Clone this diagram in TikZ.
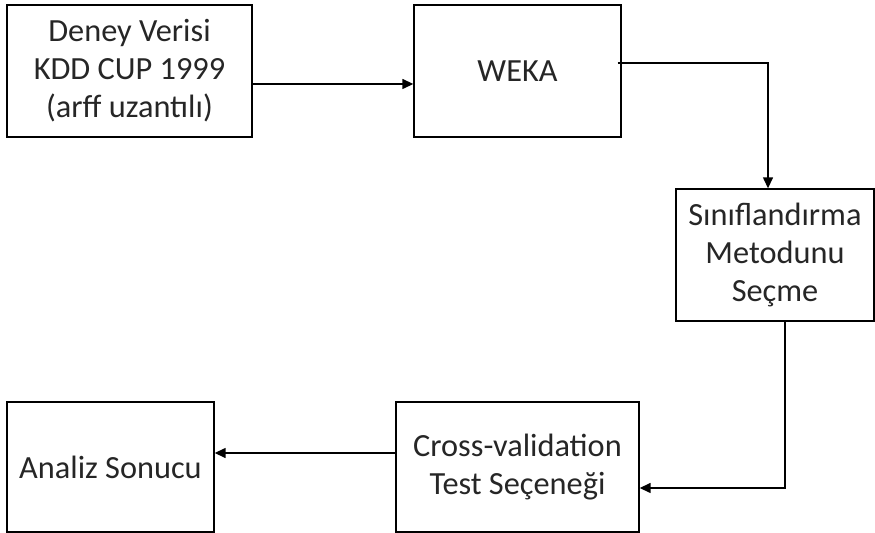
\documentclass[tikz,border=0pt]{standalone}
\usepackage{fontspec}
\setmainfont{Carlito}
\usetikzlibrary{arrows.meta}
\tikzset{
    kutu/.style={draw, line width=0.8pt, align=center, inner sep=0pt,
        text=black!85, font=\fontsize{18.4pt}{21.6pt}\selectfont},
    ok/.style={line width=0.8pt, -{Triangle[length=0.22cm,width=0.2cm]}}
}
\begin{document}
\begin{tikzpicture}[x=0.02cm,y=-0.02cm]
        \useasboundingbox (0,0) rectangle (875,533);

        \node[kutu, minimum width=4.9cm, minimum height=2.64cm] (deney) at (129.5,71) {Deney Verisi\\KDD CUP 1999\\(arff uzantılı)};
        \node[kutu, minimum width=4.14cm, minimum height=2.64cm] (weka) at (517.5,71) {WEKA};
        \node[kutu, minimum width=3.96cm, minimum height=2.64cm] (sinif) at (775,255) {Sınıflandırma\\Metodunu\\Seçme};
        \node[kutu, minimum width=4.86cm, minimum height=2.6cm] (cross) at (517.5,467) {Cross-validation\\Test Seçeneği};
        \node[kutu, minimum width=4.14cm, minimum height=2.6cm] (analiz) at (110.5,467) {Analiz Sonucu};

        \draw[ok] ([yshift=-0.26cm]deney.east) -- ([yshift=-0.26cm]weka.west);
        \draw[ok] ([yshift=0.16cm,xshift=-0.08cm]weka.east) -| ([xshift=-0.14cm]sinif.north);
        \draw[ok] ([xshift=0.2cm]sinif.south) |- ([yshift=-0.42cm]cross.east);
        \draw[ok] ([yshift=0.28cm]cross.west) -- ([yshift=0.28cm]analiz.east);
    \end{tikzpicture}
\end{document}
